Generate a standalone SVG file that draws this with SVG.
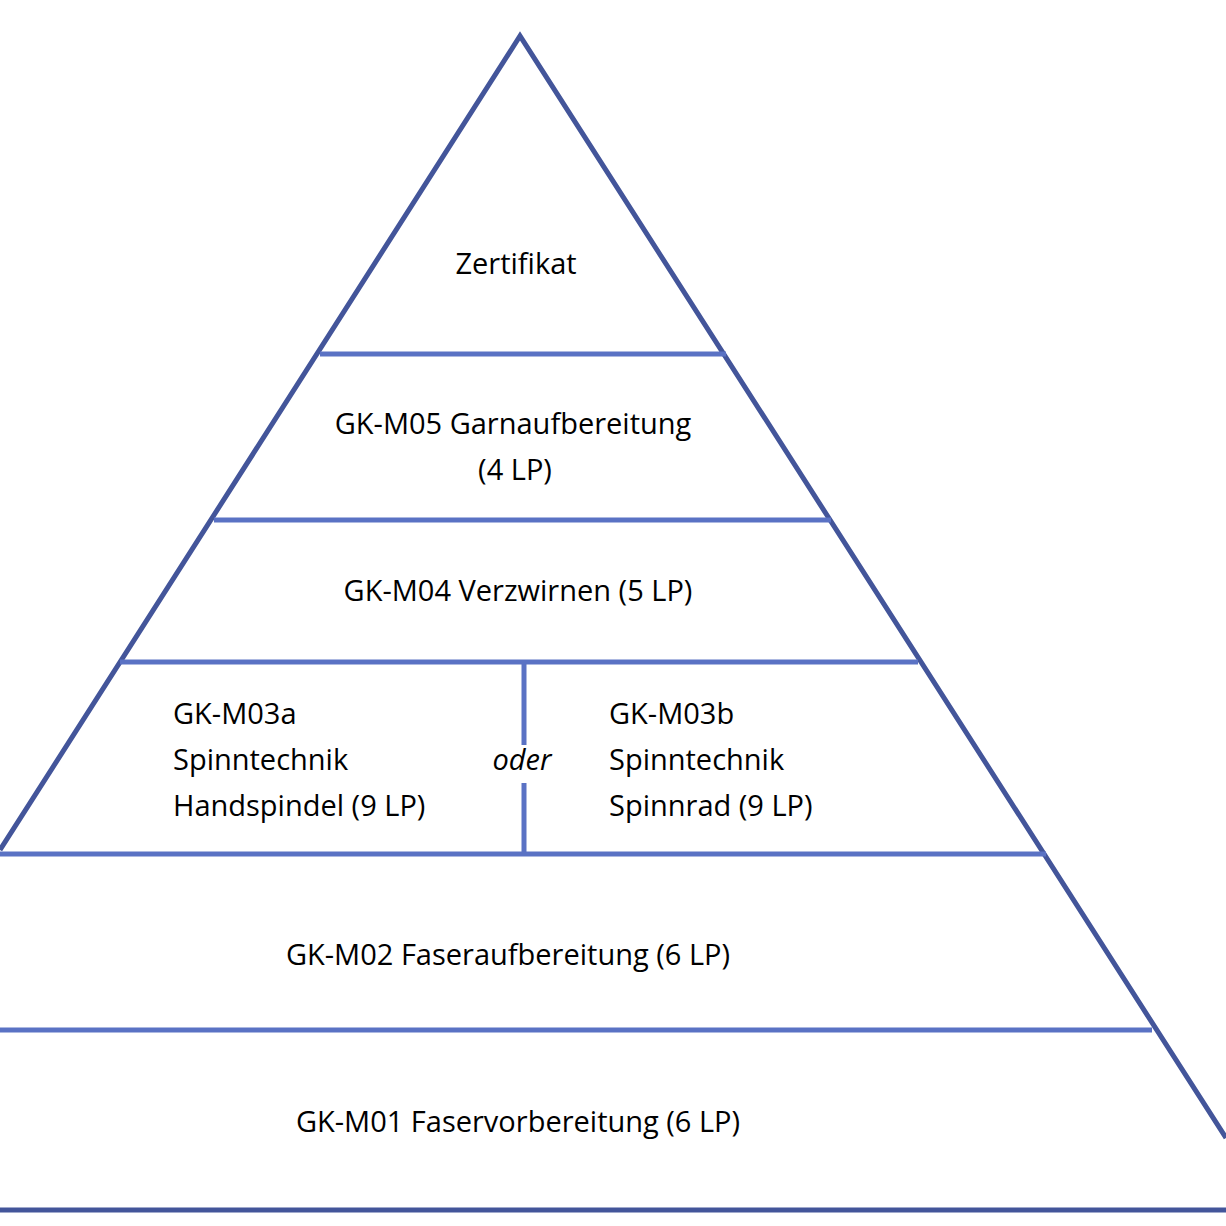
<svg xmlns="http://www.w3.org/2000/svg" width="1226" height="1226" viewBox="0 0 1226 1226">
<style>
.e{stroke:#43559a;stroke-width:5;fill:none}
.h{stroke:#5a72c4;stroke-width:5;fill:none}
text{font-family:"Open Sans","Noto Sans",sans-serif;font-size:29px;fill:#000}
.c{text-anchor:middle}
</style>
<rect width="1226" height="1226" fill="#fff"/>
<g id="connectors">
<path class="e" d="M0 850 L520 36 L1226 1138"/>
<path class="h" d="M320 354H726M214 520H831M120 662H918M0 854H1046M0 1030H1152M524 662V745M524 783V854"/>
<path class="e" d="M0 1210H1226"/>
</g>
<g id="n-zert"><text class="c" x="516" y="274">Zertifikat</text></g>
<g id="n-m05"><text class="c" x="513" y="434">GK-M05 Garnaufbereitung</text><text class="c" x="515" y="480">(4 LP)</text></g>
<g id="n-m04"><text class="c" x="518" y="601">GK-M04 Verzwirnen (5 LP)</text></g>
<g id="n-m03a"><text x="173" y="724">GK-M03a</text><text x="173" y="770">Spinntechnik</text><text x="173" y="816">Handspindel (9 LP)</text></g>
<g id="n-oder"><text class="c" x="522" y="770" font-style="italic">oder</text></g>
<g id="n-m03b"><text x="609" y="724">GK-M03b</text><text x="609" y="770">Spinntechnik</text><text x="609" y="816">Spinnrad (9 LP)</text></g>
<g id="n-m02"><text class="c" x="508" y="965">GK-M02 Faseraufbereitung (6 LP)</text></g>
<g id="n-m01"><text class="c" x="518" y="1132">GK-M01 Faservorbereitung (6 LP)</text></g>
</svg>
